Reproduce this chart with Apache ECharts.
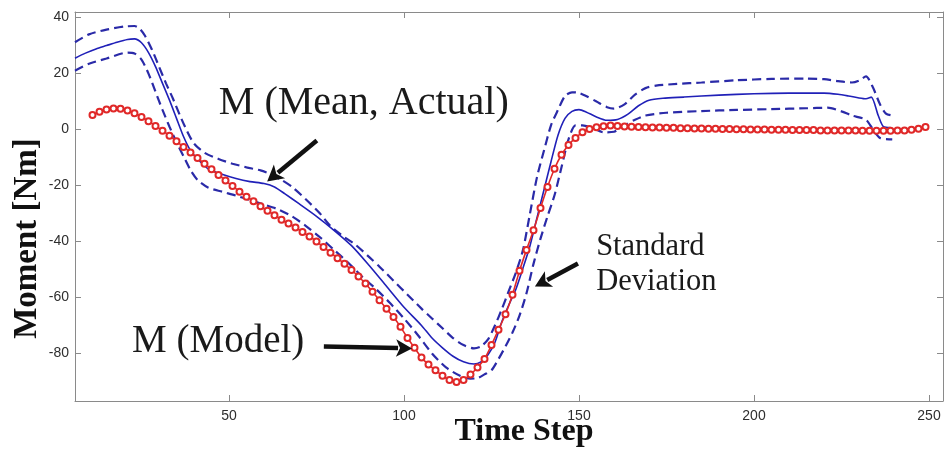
<!DOCTYPE html>
<html><head><meta charset="utf-8">
<script src="https://cdn.jsdelivr.net/npm/echarts@6/dist/echarts.min.js"></script>
<style>html,body{margin:0;padding:0;background:#fff}#c{width:947px;height:451px}</style>
</head><body><div id="c"></div>
<script>
// ---- data ----
const xTicks = [50, 100, 150, 200, 250];
const yTicks = [-80, -60, -40, -20, 0, 20, 40];

const modelT = [11,13,15,17,19,21,23,25,27,29,31,33,35,37,39,41,43,45,47,49,51,53,55,57,59,61,63,65,67,69,71,73,75,77,79,81,83,85,87,89,91,93,95,97,99,101,103,105,107,109,111,113,115,117,119,121,123,125,127,129,131,133,135,137,139,141,143,145,147,149,151,153,155,157,159,161,163,165,167,169,171,173,175,177,179,181,183,185,187,189,191,193,195,197,199,201,203,205,207,209,211,213,215,217,219,221,223,225,227,229,231,233,235,237,239,241,243,245,247,249];
const modelV = [5.2,6.4,7.2,7.5,7.4,6.8,5.8,4.5,3.0,1.3,-0.4,-2.2,-4.2,-6.2,-8.2,-10.2,-12.2,-14.2,-16.2,-18.2,-20.2,-22.2,-24.0,-25.6,-27.4,-29.0,-30.6,-32.2,-33.6,-35.0,-36.6,-38.2,-40.0,-42.0,-44.0,-46.0,-48.0,-50.2,-52.5,-55.0,-58.0,-61.0,-64.0,-67.0,-70.5,-74.5,-78.0,-81.5,-84.0,-86.0,-88.0,-89.5,-90.2,-89.5,-87.5,-85.0,-82.0,-77.0,-71.5,-66.0,-59.0,-50.5,-43.0,-36.0,-28.0,-20.5,-14.0,-9.0,-5.5,-3.0,-1.0,0.2,0.8,1.2,1.4,1.3,1.1,1.0,0.9,0.8,0.7,0.7,0.6,0.6,0.5,0.5,0.4,0.4,0.3,0.3,0.2,0.2,0.1,0.1,0.0,0.0,0.0,-0.1,-0.1,-0.1,-0.2,-0.2,-0.2,-0.2,-0.3,-0.3,-0.3,-0.3,-0.3,-0.3,-0.4,-0.4,-0.4,-0.4,-0.4,-0.3,-0.3,-0.1,0.3,0.9];

const meanT = [6,9,12,15,18,21,23,25,27,29,31,33,35,37,39,41,44,48,52,56,60,63,66,70,75,80,85,90,95,100,105,108,111,114,117,120,122,124,126,128,130,132,134,136,138,140,142,144,146,148,150,152,155,158,161,164,167,170,174,180,190,200,210,220,224,227,230,232,233.5,235.5,237,239];
const meanV = [25.5,27.3,28.8,30,31.2,32.2,32.4,31,27.5,22.5,16.5,10.5,4,-2.5,-7.5,-10.5,-14,-16,-17.5,-18.6,-19.3,-20.5,-23,-26.5,-31,-36,-41.5,-48.5,-56,-63.5,-70,-74.5,-78,-81,-83,-83.8,-83,-80.5,-76,-68.5,-62.5,-57,-49.5,-41.5,-31.5,-21.5,-11.5,-2,4,6.5,7.1,6.3,4.5,3.3,3.6,5.5,8.5,10.5,11.2,11.6,12.3,12.8,13,13,12.6,12,11.3,11,11.6,5,1,0.7];

const upperT = [6,10,15,20,23,24.5,26,28,30,32,34,36,38,40,43,47,51,55,59,62,65,68,72,76,79,83,86,90,93,97,101,105,108,111,114,117,120,122,124,126,128,130,132,134,136,138,140,142,144,146,148,150,152,155,158,160,163,166,169,172,178,185,195,205,215,220,224,228,230,232,234,236,237.7,239.5];
const upperV = [31.2,34,35.7,36.8,37,36,33.5,28.5,22.5,16.5,11,5,-0.5,-5,-8.3,-10.5,-12.2,-13.5,-14.6,-16,-18,-20.5,-25,-30,-34.5,-38.5,-41,-45.5,-49,-54,-59,-64,-67.5,-71,-74.5,-77,-78.2,-77.5,-75,-70,-64,-57.5,-51,-43,-30,-17,-7.5,1.5,7,12,13.3,13.1,12,10,8,7.5,9,12.5,14.8,15.7,16.3,16.8,17.6,18.1,18.2,18,17.3,16.8,17.5,19,15,9,5.7,5];

const lowerT = [6,10,15,21,23,25,27,29,31,33,35,37,39,41,44,48,52,56,60,64,68,72,76,80,84,88,92,96,100,104,108,112,116,119,121,123,125,127,129,131,133,135,137,139,141,143,145,147,149,151,154,157,160,163,166,169,175,185,195,205,215,221,225,228,232,234,236,239.5];
const lowerV = [21,23.5,25.4,27.5,27.2,25,20,13.5,7,1,-4.5,-9.5,-14.5,-18,-20.7,-22.2,-23.6,-25.2,-26.8,-28.5,-31,-34.5,-38.5,-43,-47.5,-52.5,-57,-62,-67.5,-73.5,-80,-85,-88,-89,-88.8,-87.5,-86,-82,-77.5,-72.5,-66.5,-58.5,-48,-39,-31,-23.5,-13.5,-3.5,1.5,1.5,0.5,-1,-0.8,1.5,3.5,5,6,6.6,7,7.3,7.6,7.8,6.5,5,3.5,0,-3,-3.5];

const labelMean = 'M (Mean, Actual)';
const labelModel = 'M (Model)';
const labelStd1 = 'Standard';
const labelStd2 = 'Deviation';
const yTitle = 'Moment [Nm]';
const xTitle = 'Time Step';

// ---- build ----
const zip = (a, b) => a.map((t, i) => [t, b[i]]);
const chart = echarts.init(document.getElementById('c'), null, {renderer: 'canvas'});
const axisCol = '#8a8a8a';
const lblStyle = {color: '#2e2e2e', fontFamily: 'Liberation Sans, Arial, sans-serif', fontSize: 14};
const XMIN = 6, XMAX = 254, YMIN = -97, YMAX = 42;

const dashBlue = '#2a2aa8';
const solidBlue = '#2020b8';

function boxAxis(extra) {
  return Object.assign({
    type: 'value',
    axisLine: {show: true, onZero: false, lineStyle: {color: axisCol, width: 1}},
    splitLine: {show: false}
  }, extra);
}

chart.setOption({
  animation: false,
  backgroundColor: '#fff',
  grid: {left: 75, right: 4, top: 12, bottom: 50, containLabel: false},
  xAxis: [
    boxAxis({min: XMIN, max: XMAX, position: 'bottom',
     axisTick: {show: true, inside: true, length: 6, customValues: xTicks, lineStyle: {color: axisCol}},
     axisLabel: Object.assign({show: true, customValues: xTicks, margin: 8}, lblStyle)}),
    boxAxis({min: XMIN, max: XMAX, position: 'top',
     axisTick: {show: true, inside: true, length: 6, customValues: xTicks, lineStyle: {color: axisCol}},
     axisLabel: {show: false}})
  ],
  yAxis: [
    boxAxis({min: YMIN, max: YMAX, position: 'left',
     axisTick: {show: true, inside: true, length: 6, customValues: yTicks, lineStyle: {color: axisCol}},
     axisLabel: Object.assign({show: true, customValues: yTicks, margin: 6}, lblStyle)}),
    boxAxis({min: YMIN, max: YMAX, position: 'right',
     axisTick: {show: true, inside: true, length: 6, customValues: yTicks, lineStyle: {color: axisCol}},
     axisLabel: {show: false}})
  ],
  series: [
    {type: 'line', name: 'upper', data: zip(upperT, upperV), smooth: 0.25, showSymbol: false,
     lineStyle: {color: dashBlue, width: 2.2, type: [9, 5]}},
    {type: 'line', name: 'lower', data: zip(lowerT, lowerV), smooth: 0.25, showSymbol: false,
     lineStyle: {color: dashBlue, width: 2.2, type: [9, 5]}},
    {type: 'line', name: 'mean', data: zip(meanT, meanV), smooth: 0.25, showSymbol: false,
     lineStyle: {color: solidBlue, width: 1.6}},
    {type: 'line', name: 'model', data: zip(modelT, modelV), smooth: 0.2,
     symbol: 'emptyCircle', symbolSize: 6, showSymbol: true,
     itemStyle: {color: '#e02828', borderColor: '#e02828', borderWidth: 1.4},
     lineStyle: {color: '#e02828', width: 1.6}}
  ]
});

// ---- annotations anchored in data coordinates ----
const P = (t, v) => chart.convertToPixel({xAxisIndex: 0, yAxisIndex: 0}, [t, v]);
function arrow(from, to, w, head) {
  const a = P(from[0], from[1]), b = P(to[0], to[1]);
  const dx = b[0] - a[0], dy = b[1] - a[1], L = Math.hypot(dx, dy);
  const ux = dx / L, uy = dy / L, nx = -uy, ny = ux;
  const bx = b[0] - ux * head, by = b[1] - uy * head;
  return [
    {type: 'line', shape: {x1: a[0], y1: a[1], x2: bx + ux * 2, y2: by + uy * 2},
     style: {stroke: '#111', lineWidth: w}, z: 100},
    {type: 'polygon', shape: {points: [[b[0], b[1]], [bx + nx * head * 0.55, by + ny * head * 0.55], [bx + ux * head * 0.25, by + uy * head * 0.25], [bx - nx * head * 0.55, by - ny * head * 0.55]]},
     style: {fill: '#111'}, z: 100}
  ];
}
const serif = 'Liberation Serif, Times New Roman, serif';
const tMean = P(47.1, 9.3), tModel = P(22.3, -75.7), tStd1 = P(154.9, -42.1), tStd2 = P(154.9, -54.6);
const plotT = P(XMIN, YMAX)[1], plotB = P(XMIN, YMIN)[1];
function label(pos, text, size, bold) {
  return {type: 'text', x: pos[0], y: pos[1], z: 100,
    style: {text: text, font: (bold ? 'bold ' : '') + size + 'px ' + serif, fill: '#1a1a1a', align: 'left', verticalAlign: 'middle'}};
}
chart.setOption({
  graphic: [
    label(tMean, labelMean, 40),
    label(tModel, labelModel, 39),
    label(tStd1, labelStd1, 30.5),
    label(tStd2, labelStd2, 30.5),
    {type: 'text', x: 27, y: (plotT + plotB) / 2 + 32, rotation: Math.PI / 2,
     style: {text: yTitle, font: 'bold 33px ' + serif, fill: '#111', align: 'center', verticalAlign: 'middle'}, z: 100},
    {type: 'text', x: 524, y: 432, style: {text: xTitle, font: 'bold 32px ' + serif, fill: '#111', align: 'center', verticalAlign: 'middle'}, z: 100}
  ].concat(
    arrow([75.1, -3.9], [60.9, -18.6], 4.5, 16),
    arrow([77.1, -77.5], [102.3, -78.2], 4.5, 16),
    arrow([149.7, -47.9], [137.4, -56.1], 4.5, 16)
  )
});
</script></body></html>
